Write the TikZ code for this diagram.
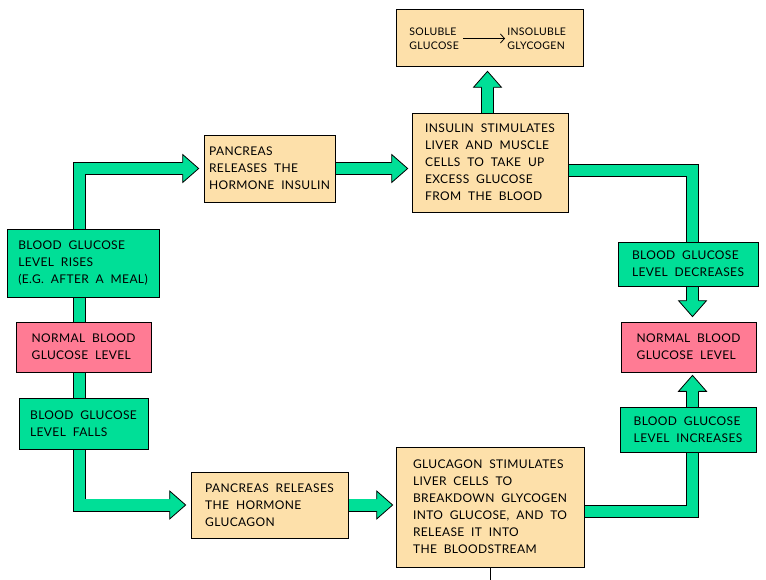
\documentclass[tikz,border=0pt]{standalone}
\usepackage{fontspec}
\setmainfont{Lato}[WordSpace=2,LetterSpace=3]
\usetikzlibrary{calc,arrows.meta}
\pgfdeclarelayer{bg}
\pgfsetlayers{bg,main}
\definecolor{orf}{HTML}{FDE0AA}
\definecolor{pkf}{HTML}{FF7B94}
\definecolor{grf}{HTML}{00DF97}
\tikzset{
  bx/.style={draw=black, line width=0.7pt, align=left, inner sep=0pt,
    font=\fontsize{12}{17}\selectfont},
  ob/.style={bx, fill=orf},
  pb/.style={bx, fill=pkf},
  gb/.style={bx, fill=grf},
  tt/.style={bx, draw=none, anchor=west, inner sep=2pt, font=\fontsize{10.5}{13.5}\selectfont},
  band/.style={draw=black, line width=0.8pt, double=grf, double distance=11.4pt},
  hd/.pic={\filldraw[fill=grf, draw=black, line width=0.8pt, line join=miter]
    (-16,6) -- (-16,14) -- (0,0) -- (-16,-14) -- (-16,-6);}
}
\begin{document}
\begin{tikzpicture}[x=1pt,y=-1pt]
\useasboundingbox (0,0) rectangle (766,580);
\begin{pgfonlayer}{bg}
\fill[white] (0,0) rectangle (766,580);
\end{pgfonlayer}
% boxes
\node[ob, minimum width=187pt, minimum height=57pt] (top) at (489.5,37.5) {};
\node[tt] (sol) at (407,38.5) {SOLUBLE\\GLUCOSE};
\node[tt] (insol) at (505,38.5) {INSOLUBLE\\GLYCOGEN};
\draw[line width=0.8pt, -{Straight Barb[length=4pt,width=9pt]}] ([xshift=2pt]sol.east) -- (insol.west);
\node[ob, minimum width=131pt, minimum height=67pt] (pins) at (269.5,168.5) {PANCREAS\\RELEASES THE\\HORMONE INSULIN};
\node[ob, minimum width=156pt, minimum height=99pt] (ins) at (490,162.5) {INSULIN STIMULATES\\LIVER AND MUSCLE\\CELLS TO TAKE UP\\EXCESS GLUCOSE\\FROM THE BLOOD};
\node[gb, minimum width=152pt, minimum height=68pt] (rises) at (83,263) {BLOOD GLUCOSE\\LEVEL RISES\\(E.G. AFTER A MEAL)};
\node[pb, minimum width=135pt, minimum height=50pt] (nl) at (83.5,347) {NORMAL BLOOD\\GLUCOSE LEVEL};
\node[gb, minimum width=129pt, minimum height=51pt] (falls) at (83.5,423.5) {BLOOD GLUCOSE\\LEVEL FALLS};
\node[ob, minimum width=157pt, minimum height=66pt] (pglu) at (269.5,505) {PANCREAS RELEASES\\THE HORMONE\\GLUCAGON};
\node[ob, minimum width=188pt, minimum height=120pt] (glu) at (490,507) {GLUCAGON STIMULATES\\LIVER CELLS TO\\BREAKDOWN GLYCOGEN\\INTO GLUCOSE, AND TO\\RELEASE IT INTO\\THE BLOODSTREAM};
\node[gb, minimum width=136pt, minimum height=45pt] (inc) at (688,429.5) {BLOOD GLUCOSE\\LEVEL INCREASES};
\node[pb, minimum width=135pt, minimum height=50pt] (nr) at (688.5,347) {NORMAL BLOOD\\GLUCOSE LEVEL};
\node[gb, minimum width=140pt, minimum height=44pt] (dec) at (688,264) {BLOOD GLUCOSE\\LEVEL DECREASES};
\coordinate (Lx) at (79.5,0);
\coordinate (Rx) at (692.5,0);
\coordinate (Tx) at (487.5,0);
\coordinate (Ay) at (0,170.5);
\coordinate (By) at (0,511.5);
\coordinate (stray) at ($(glu.south)+(0,14)$);
\draw[line width=0.8pt] (glu.south) -- (stray);
% connectors
\begin{pgfonlayer}{bg}
\draw[band] (Lx |- rises.center) |- ($(pins.west)+(-19,0)$);
\pic at ($(pins.west)+(-5,0)$) {hd};
\draw[band] (Lx |- rises.center) -- (Lx |- nl.center);
\draw[band] (Lx |- nl.center) -- (Lx |- falls.center);
\draw[band] (Lx |- falls.center) |- ($(pglu.west)+(-19,0)$);
\pic at ($(pglu.west)+(-5,0)$) {hd};
\draw[band] (pglu.center) -- ($(glu.west |- pglu.center)+(-17,0)$);
\pic at ($(glu.west |- pglu.center)+(-3,0)$) {hd};
\draw[band] (pins.center) -- ($(ins.west |- pins.center)+(-18,0)$);
\pic at ($(ins.west |- pins.center)+(-4,0)$) {hd};
\draw[band] (Tx |- ins.center) -- ($(Tx |- top.south)+(0,19)$);
\pic[rotate=90] at ($(Tx |- top.south)+(0,5)$) {hd};
\draw[band] (Ay -| ins.center) -| (Rx |- dec.center);
\draw[band] (Rx |- dec.center) -- ($(Rx |- nr.north)+(0,-19)$);
\pic[rotate=-90] at ($(Rx |- nr.north)+(0,-5)$) {hd};
\draw[band] (Rx |- inc.center) -- ($(Rx |- nr.south)+(0,17)$);
\pic[rotate=90] at ($(Rx |- nr.south)+(0,3)$) {hd};
\draw[band] (By -| glu.center) -| (Rx |- inc.center);
\end{pgfonlayer}
\end{tikzpicture}
\end{document}
